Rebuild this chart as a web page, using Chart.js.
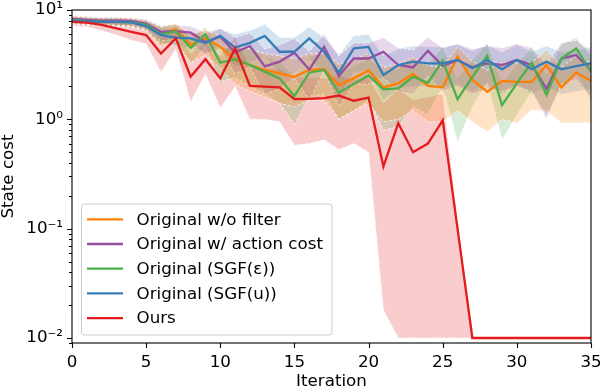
<!DOCTYPE html>
<html>
<head>
<meta charset="utf-8">
<script src="https://cdn.jsdelivr.net/npm/chart.js@4/dist/chart.umd.min.js"></script>
<style>
  html, body { margin: 0; padding: 0; background: #fff; }
  #wrap { width: 600px; height: 390px; }
</style>
</head>
<body>
<div id="wrap"><canvas id="costChart" width="600" height="390"></canvas></div>
<script>
const iterations = [0, 1, 2, 3, 4, 5, 6, 7, 8, 9, 10, 11, 12, 13, 14, 15, 16, 17, 18, 19, 20, 21, 22, 23, 24, 25, 26, 27, 28, 29, 30, 31, 32, 33, 34, 35];

// mean state cost per iteration
const withoutFilter = [8.2, 8.0, 7.9, 7.9, 7.8, 7.4, 6.0, 6.7, 4.8, 5.5, 4.6, 3.49, 3.14, 2.83, 2.63, 2.45, 2.83, 2.87, 2.06, 2.37, 2.8, 1.96, 2.13, 2.6, 2.02, 1.96, 3.74, 2.29, 1.79, 2.25, 2.2, 2.2, 3.14, 1.96, 2.67, 2.25];
const withActionCost = [8.3, 8.1, 8.0, 8.0, 7.9, 7.5, 6.3, 6.4, 6.2, 5.1, 5.7, 4.1, 4.68, 3.05, 3.37, 4.07, 2.85, 4.6, 2.5, 3.6, 3.6, 4.15, 3.14, 2.98, 4.25, 3.07, 3.49, 3.0, 3.25, 3.14, 3.49, 3.14, 1.9, 3.6, 3.87, 2.83];
const sgfEps = [8.1, 7.9, 7.8, 7.8, 7.7, 7.3, 6.0, 6.4, 4.5, 6.0, 3.3, 3.55, 3.14, 2.73, 2.37, 1.63, 2.67, 2.83, 1.75, 2.1, 2.52, 1.88, 1.92, 2.45, 2.16, 3.44, 1.53, 2.45, 3.8, 1.35, 2.13, 3.3, 1.67, 3.6, 4.45, 2.73];
const sgfU = [8.0, 7.9, 7.8, 7.8, 7.7, 7.1, 5.9, 5.6, 5.5, 5.0, 5.8, 4.55, 5.0, 5.8, 4.15, 4.15, 5.5, 4.15, 2.67, 4.45, 4.6, 2.54, 3.14, 3.37, 3.25, 3.25, 3.49, 2.93, 3.49, 2.87, 3.49, 2.87, 3.37, 2.87, 3.07, 3.25];
const ours = [7.8, 7.65, 7.3, 6.8, 6.3, 5.9, 4.0, 5.5, 2.45, 3.55, 2.37, 4.45, 2.02, 1.99, 1.96, 1.53, 1.54, 1.56, 1.65, 1.48, 1.58, 0.37, 0.92, 0.5, 0.6, 0.98, 0.1, 0.01, 0.01, 0.01, 0.01, 0.01, 0.01, 0.01, 0.01, 0.01];

// shaded spread (upper / lower)
const withoutFilterHigh = [8.8, 8.6, 8.5, 8.5, 8.4, 8.1, 7.0, 7.5, 6.0, 6.6, 5.8, 4.8, 4.4, 4.0, 3.8, 3.6, 4.0, 4.0, 3.2, 3.5, 4.0, 3.0, 3.2, 3.7, 3.1, 3.0, 4.6, 3.4, 2.8, 3.3, 3.3, 3.3, 4.3, 3.0, 3.8, 3.3];
const withoutFilterLow = [7.6, 7.4, 7.3, 7.2, 7.1, 6.6, 4.6, 5.2, 3.3, 3.9, 2.9, 2.1, 1.8, 1.6, 1.4, 1.3, 1.5, 1.5, 1.0, 1.2, 1.4, 0.95, 1.0, 1.2, 0.95, 0.95, 1.2, 0.95, 0.77, 1.0, 0.92, 1.22, 1.2, 0.93, 0.93, 0.93];
const withActionCostHigh = [8.9, 8.7, 8.6, 8.6, 8.5, 8.2, 7.2, 7.3, 7.1, 6.2, 6.8, 5.6, 6.2, 4.4, 4.8, 5.5, 4.2, 6.0, 3.8, 5.0, 5.0, 5.6, 4.5, 4.3, 5.6, 4.5, 4.9, 4.4, 4.7, 4.5, 4.9, 4.5, 3.2, 5.0, 5.3, 4.2];
const withActionCostLow = [7.7, 7.5, 7.4, 7.3, 7.2, 6.8, 5.2, 5.4, 5.0, 3.9, 4.4, 2.6, 3.0, 1.7, 1.9, 2.4, 1.5, 2.8, 1.3, 2.1, 2.1, 2.4, 1.8, 1.7, 2.5, 1.8, 2.0, 1.7, 1.9, 1.8, 2.0, 1.8, 1.0, 2.1, 2.3, 1.6];
const sgfEpsHigh = [8.7, 8.5, 8.4, 8.4, 8.3, 8.0, 7.0, 7.4, 5.6, 7.0, 4.4, 4.7, 4.3, 3.8, 3.4, 2.5, 3.8, 4.0, 2.6, 3.1, 3.6, 2.8, 2.9, 3.5, 3.2, 4.6, 2.4, 3.5, 5.0, 2.2, 3.2, 4.6, 2.6, 4.8, 5.6, 3.8];
const sgfEpsLow = [7.5, 7.3, 7.2, 7.1, 7.0, 6.5, 4.8, 5.2, 3.2, 4.6, 2.2, 2.4, 2.0, 1.7, 1.4, 0.9, 1.6, 1.7, 1.0, 1.2, 1.5, 0.8, 0.85, 1.3, 1.1, 2.0, 0.62, 1.3, 2.2, 0.65, 1.1, 1.8, 1.1, 2.0, 2.6, 1.5];
const sgfUHigh = [8.6, 8.5, 8.4, 8.4, 8.3, 7.8, 6.8, 6.6, 6.3, 5.9, 6.7, 6.0, 6.5, 7.4, 5.6, 5.6, 7.0, 5.6, 3.9, 5.8, 6.0, 3.8, 4.4, 4.7, 4.6, 4.6, 4.8, 4.2, 4.8, 4.1, 4.8, 4.1, 4.7, 4.1, 4.3, 4.6];
const sgfULow = [7.5, 7.3, 7.2, 7.1, 7.1, 6.5, 5.0, 4.7, 4.5, 4.0, 4.8, 3.0, 3.3, 3.8, 2.6, 2.6, 3.6, 2.6, 1.6, 2.7, 2.8, 1.5, 1.9, 2.0, 2.0, 2.0, 2.1, 1.8, 2.1, 1.7, 2.1, 1.7, 2.0, 1.7, 1.8, 1.9];
const oursHigh = [8.4, 8.3, 8.1, 7.8, 7.4, 7.0, 5.6, 6.6, 4.0, 5.0, 3.8, 5.6, 3.0, 2.9, 2.9, 2.4, 2.4, 2.4, 2.5, 2.3, 2.4, 1.4, 1.9, 1.5, 1.6, 1.7, 0.12, 0.01, 0.01, 0.01, 0.01, 0.01, 0.01, 0.01, 0.01, 0.01];
const oursLow = [7.2, 7.0, 6.5, 5.9, 5.3, 4.9, 2.7, 4.4, 1.45, 2.6, 1.27, 2.0, 1.0, 1.0, 0.95, 0.58, 0.6, 0.65, 0.53, 0.6, 0.5, 0.018, 0.01, 0.01, 0.01, 0.01, 0.01, 0.01, 0.01, 0.01, 0.01, 0.01, 0.01, 0.01, 0.01, 0.01];

const seriesNames = ['Original w/o filter', 'Original w/ action cost', 'Original (SGF(ε))', 'Original (SGF(u))', 'Ours'];
const seriesColors = ['#ff7f00', '#984ea3', '#4daf4a', '#377eb8', '#e41a1c'];

const xTickValues = [0, 5, 10, 15, 20, 25, 30, 35];
const yMajorTicks = [0.01, 0.1, 1, 10];
const yMajorLabels = ['10⁻²', '10⁻¹', '10⁰', '10¹'];
const yMinorSteps = [2, 3, 4, 5, 6, 7, 8, 9];

const FONT = { family: 'DejaVu Sans', size: 16.7 };

function toPoints(values) {
  return values.map((v, i) => ({ x: iterations[i], y: v }));
}

function hexToRgba(hex, a) {
  const n = parseInt(hex.slice(1), 16);
  return `rgba(${(n >> 16) & 255}, ${(n >> 8) & 255}, ${n & 255}, ${a})`;
}

const means = [withoutFilter, withActionCost, sgfEps, sgfU, ours];
const highs = [withoutFilterHigh, withActionCostHigh, sgfEpsHigh, sgfUHigh, oursHigh];
const lows = [withoutFilterLow, withActionCostLow, sgfEpsLow, sgfULow, oursLow];

const datasets = [];
// bands first, each as upper line + lower line filled to it
means.forEach((m, k) => {
  datasets.push({
    label: 'band-hi',
    data: toPoints(highs[k]),
    borderColor: 'rgba(255,255,255,0.75)',
    borderWidth: 1,
    borderDash: [3, 2],
    pointRadius: 0,
    fill: false,
    order: 20 + k,
  });
  datasets.push({
    label: 'band-lo',
    data: toPoints(lows[k]),
    borderColor: 'rgba(255,255,255,0.75)',
    borderWidth: 1,
    borderDash: [3, 2],
    pointRadius: 0,
    backgroundColor: hexToRgba(seriesColors[k], 0.22),
    fill: '-1',
    order: 20 + k,
  });
});
means.forEach((m, k) => {
  datasets.push({
    label: seriesNames[k],
    data: toPoints(m),
    borderColor: seriesColors[k],
    borderWidth: 2.3,
    pointRadius: 0,
    fill: false,
    order: 5 - k,
  });
});

// box + tick marks like matplotlib
const axisFrame = {
  id: 'axisFrame',
  afterDraw(chart) {
    const { ctx, chartArea: a, scales: { x, y } } = chart;
    ctx.save();
    ctx.strokeStyle = '#000';
    ctx.lineWidth = 1.1;
    ctx.strokeRect(a.left, a.top, a.right - a.left, a.bottom - a.top);
    ctx.beginPath();
    y.ticks.forEach(t => {
      const py = Math.round(y.getPixelForValue(t.value)) + 0.5;
      const len = t.major ? 5 : 3;
      ctx.moveTo(a.left - len, py);
      ctx.lineTo(a.left, py);
    });
    x.ticks.forEach(t => {
      const px = Math.round(x.getPixelForValue(t.value)) + 0.5;
      ctx.moveTo(px, a.bottom);
      ctx.lineTo(px, a.bottom + 5);
    });
    ctx.stroke();
    ctx.restore();
  }
};

// legend inside the plot, lower left
const legendBox = {
  id: 'legendBox',
  afterDraw(chart) {
    const { ctx, chartArea: a } = chart;
    ctx.save();
    ctx.font = `${FONT.size}px ${FONT.family}`;
    const textW = Math.max(...seriesNames.map(s => ctx.measureText(s).width));
    const rowH = 24.7;
    const w = 55 + textW + 9;
    const h = 131;
    const x0 = a.left + 9.5;
    const y0 = a.bottom - 8 - h;
    ctx.beginPath();
    ctx.roundRect(x0, y0, w, h, 3);
    ctx.fillStyle = 'rgba(255,255,255,0.8)';
    ctx.fill();
    ctx.strokeStyle = '#cccccc';
    ctx.lineWidth = 1;
    ctx.stroke();
    ctx.textBaseline = 'middle';
    ctx.fillStyle = '#000';
    seriesNames.forEach((name, k) => {
      const cy = y0 + 15.3 + k * rowH;
      ctx.strokeStyle = seriesColors[k];
      ctx.lineWidth = 2.3;
      ctx.beginPath();
      ctx.moveTo(x0 + 5.5, cy);
      ctx.lineTo(x0 + 41.5, cy);
      ctx.stroke();
      ctx.fillText(name, x0 + 55, cy + 1);
    });
    ctx.restore();
  }
};

new Chart(document.getElementById('costChart').getContext('2d'), {
  type: 'line',
  data: { datasets: datasets },
  options: {
    responsive: false,
    animation: false,
    layout: { padding: { top: 10, right: 9, left: 0, bottom: 0 } },
    plugins: {
      legend: { display: false },
      tooltip: { enabled: false },
    },
    scales: {
      x: {
        type: 'linear',
        min: 0,
        max: 35,
        afterBuildTicks: axis => { axis.ticks = xTickValues.map(v => ({ value: v })); },
        afterFit: axis => { axis.height = 47; axis.paddingLeft = 0; axis.paddingRight = 0; },
        ticks: { color: '#000', font: FONT, padding: 10, maxRotation: 0, autoSkip: false },
        grid: { display: true, drawOnChartArea: false, drawTicks: false },
        border: { display: false },
        title: { display: true, text: 'Iteration', color: '#000', font: { ...FONT, lineHeight: 1 }, padding: { top: 0, bottom: 0 } },
      },
      y: {
        type: 'logarithmic',
        min: 0.009,
        max: 10,
        afterBuildTicks: axis => {
          const t = [{ value: 0.009, major: false }];
          yMajorTicks.forEach((m, i) => {
            t.push({ value: m, major: true });
            if (i < yMajorTicks.length - 1) yMinorSteps.forEach(s => t.push({ value: s * m, major: false }));
          });
          axis.ticks = t;
        },
        afterFit: axis => { axis.width = 72; axis.paddingTop = 0; axis.paddingBottom = 0; },
        ticks: {
          color: '#000',
          font: FONT,
          padding: 9,
          autoSkip: false,
          callback: (value) => {
            const i = yMajorTicks.findIndex(m => Math.abs(m - value) < m * 1e-6);
            return i >= 0 ? yMajorLabels[i] : '';
          },
        },
        grid: { display: true, drawOnChartArea: false, drawTicks: false },
        border: { display: false },
        title: { display: true, text: 'State cost', color: '#000', font: { ...FONT, lineHeight: 1 }, padding: { top: 0, bottom: 0 } },
      },
    },
  },
  plugins: [axisFrame, legendBox],
});
</script>
</body>
</html>
